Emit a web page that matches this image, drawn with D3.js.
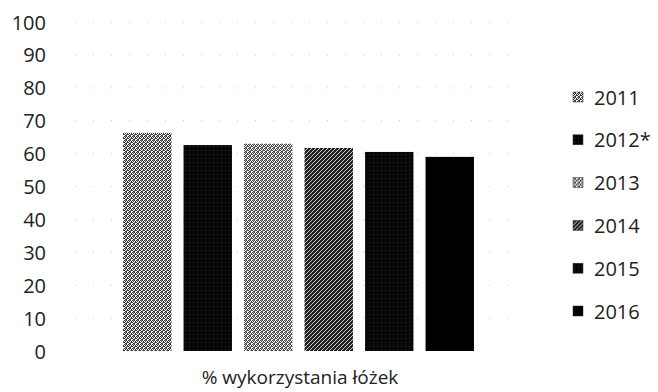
<!DOCTYPE html>
<html>
<head>
<meta charset="utf-8">
<script src="https://cdn.jsdelivr.net/npm/d3@7"></script>
<style>
  body { margin: 0; background: #fff; }
  text { font-family: "Open Sans", Lato, sans-serif; fill: #222; }
</style>
</head>
<body>
<script>
var seriesNames = ['2011', '2012*', '2013', '2014', '2015', '2016'];
var seriesValues = [66.3, 62.6, 63, 61.7, 60.5, 59];
var categoryLabel = '% wykorzystania łóżek';
var yTicks = [0, 10, 20, 30, 40, 50, 60, 70, 80, 90, 100];

var W = 658, H = 392;
var svg = d3.select("body").append("svg").attr("width", W).attr("height", H);

// dithered look of the scanned bars
var defs = svg.append("defs");
var pats = [
  { id: "p0", bg: "#fff", fg: "#333", kind: "speck" },
  { id: "p1", bg: "#050505", fg: "#777", kind: "dots" },
  { id: "p2", bg: "#fff", fg: "#444", kind: "speck" },
  { id: "p3", bg: "#222", fg: "#ccc", kind: "diag" },
  { id: "p4", bg: "#080808", fg: "#666", kind: "dots" },
  { id: "p5", bg: "#000", fg: "#000", kind: "solid" }
];
pats.forEach(function (p) {
  var pt = defs.append("pattern").attr("id", p.id)
    .attr("patternUnits", "userSpaceOnUse").attr("width", 4).attr("height", 4);
  pt.append("rect").attr("width", 4).attr("height", 4).attr("fill", p.bg);
  if (p.kind == "speck") {
    pt.append("path").attr("d", "M0 0h1v1h-1zM2 0h1v1h-1zM1 1h1v1h-1zM3 2h1v1h-1zM0 2h1v1h-1zM2 3h1v1h-1zM1 3h1v1h-1zM3 1h1v1h-1z").attr("fill", p.fg);
    pt.append("path").attr("d", "M1 0h1v1h-1zM2 2h1v1h-1z").attr("fill", "#999");
  } else if (p.kind == "dots") {
    pt.append("rect").attr("x", 1).attr("y", 2).attr("width", 1).attr("height", 1).attr("fill", p.fg).attr("opacity", 0.35);
  } else if (p.kind == "diag") {
    pt.append("path").attr("d", "M0 4L4 0M-1 1L1 -1M3 5L5 3").attr("stroke", p.fg).attr("stroke-width", 1);
  }
});

var x = d3.scaleBand().domain(seriesNames).range([117, 480]).paddingInner(0.2).paddingOuter(0.1);
var y = d3.scaleLinear().domain([0, 100]).range([351, 22]);

// faint dotted gridlines
svg.selectAll("line.grid")
  .data(yTicks.slice(1))
  .enter().append("line")
    .attr("class", "grid")
    .attr("x1", 75).attr("x2", 522)
    .attr("y1", function (d) { return y(d); })
    .attr("y2", function (d) { return y(d); })
    .attr("stroke", "#c4c4c4")
    .attr("stroke-width", 1)
    .attr("stroke-dasharray", "1,17");

// y tick labels
svg.selectAll("text.ytick")
  .data(yTicks)
  .enter().append("text")
    .attr("class", "ytick")
    .attr("x", 46)
    .attr("y", function (d) { return y(d); })
    .attr("text-anchor", "end")
    .attr("dominant-baseline", "central")
    .attr("font-size", 20)
    .text(function (d) { return d; });

// bars
svg.selectAll("rect.bar")
  .data(seriesValues)
  .enter().append("rect")
    .attr("class", "bar")
    .attr("x", function (d, i) { return x(seriesNames[i]); })
    .attr("y", function (d) { return y(d); })
    .attr("width", x.bandwidth())
    .attr("height", function (d) { return y(0) - y(d); })
    .attr("fill", function (d, i) { return "url(#" + pats[i].id + ")"; });

// category label
svg.append("text")
  .attr("x", 300)
  .attr("y", 377)
  .attr("text-anchor", "middle")
  .attr("dominant-baseline", "central")
  .attr("font-size", 19)
  .text(categoryLabel);

// legend
var leg = svg.selectAll("g.leg")
  .data(seriesNames)
  .enter().append("g")
    .attr("class", "leg")
    .attr("transform", function (d, i) { return "translate(573," + (97 + i * 42.8) + ")"; });
leg.append("rect")
  .attr("x", 0).attr("y", -5).attr("width", 10).attr("height", 10)
  .attr("fill", function (d, i) { return "url(#" + pats[i].id + ")"; })
  .attr("stroke", "#333").attr("stroke-width", 0.5);
leg.append("text")
  .attr("x", 21).attr("y", 0)
  .attr("dominant-baseline", "central")
  .attr("font-size", 20)
  .text(function (d) { return d; });
</script>
</body>
</html>
